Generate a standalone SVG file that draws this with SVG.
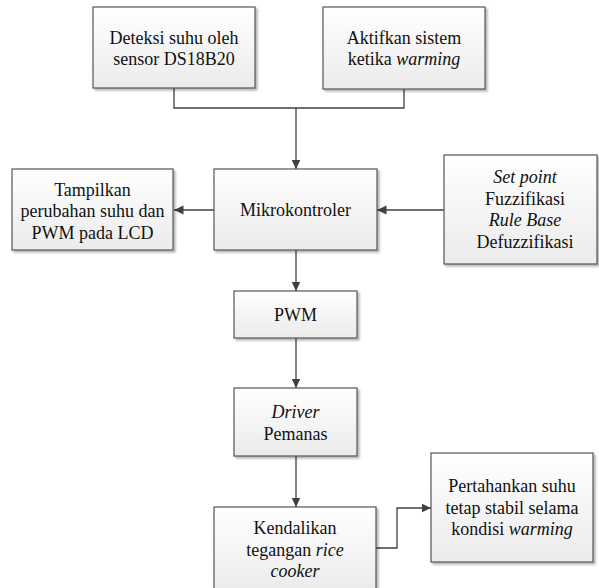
<svg xmlns="http://www.w3.org/2000/svg" width="599" height="588" viewBox="0 0 599 588">
<defs>
<linearGradient id="g" x1="0" y1="0" x2="0" y2="1">
<stop offset="0" stop-color="#ffffff"/>
<stop offset="1" stop-color="#ebebeb"/>
</linearGradient>
<filter id="sh" x="-10%" y="-10%" width="130%" height="130%">
<feDropShadow dx="2" dy="2" stdDeviation="1" flood-color="#000" flood-opacity="0.3"/>
</filter>
<marker id="ah" markerWidth="10" markerHeight="10" refX="9.5" refY="4.5" orient="auto" markerUnits="userSpaceOnUse">
<path d="M0,0 L9.5,4.5 L0,9 Z" fill="#404040"/>
</marker>
<style>
.box{fill:url(#g);stroke:#555555;stroke-width:1.2;filter:url(#sh)}
text{font-family:'Liberation Serif','DejaVu Serif',serif;font-size:18px;fill:#111111;text-anchor:middle}
.i{font-style:italic}
.c{fill:none;stroke:#404040;stroke-width:1.3}
.a{marker-end:url(#ah)}
</style>
</defs>
<rect width="599" height="588" fill="#ffffff"/>
<g id="connectors">
<polyline class="c" points="174,88 174,108 404,108 404,89"/>
<line class="c a" x1="296" y1="108" x2="296" y2="169"/>
<line class="c a" x1="214" y1="210" x2="174" y2="210"/>
<line class="c a" x1="444" y1="210" x2="377" y2="210"/>
<line class="c a" x1="296" y1="250" x2="296" y2="291"/>
<line class="c a" x1="296" y1="338" x2="296" y2="388"/>
<line class="c a" x1="296" y1="456" x2="296" y2="507"/>
<polyline class="c a" points="376,548 397,548 397,508 431,508"/>
</g>
<g id="deteksi">
<rect class="box" x="93" y="7" width="162" height="81"/>
<text x="174" y="43.5">Deteksi suhu oleh</text>
<text x="174" y="65">sensor DS18B20</text>
</g>
<g id="aktifkan">
<rect class="box" x="323" y="7" width="162" height="82"/>
<text x="404" y="43.5">Aktifkan sistem</text>
<text x="404" y="65">ketika <tspan class="i">warming</tspan></text>
</g>
<g id="tampilkan">
<rect class="box" x="12" y="169" width="161" height="81"/>
<text x="92.5" y="195.5">Tampilkan</text>
<text x="92.5" y="217">perubahan suhu dan</text>
<text x="92.5" y="238.5">PWM pada LCD</text>
</g>
<g id="mikrokontroler">
<rect class="box" x="214" y="169" width="163" height="81"/>
<text x="295.5" y="216">Mikrokontroler</text>
</g>
<g id="fuzzy">
<rect class="box" x="444" y="155" width="153" height="109"/>
<text x="525" y="183"><tspan class="i">Set point</tspan></text>
<text x="525" y="204.5">Fuzzifikasi</text>
<text x="525" y="226"><tspan class="i">Rule Base</tspan></text>
<text x="525" y="247.5">Defuzzifikasi</text>
</g>
<g id="pwm">
<rect class="box" x="234" y="291" width="123" height="47"/>
<text x="295.5" y="321">PWM</text>
</g>
<g id="driver">
<rect class="box" x="234" y="388" width="123" height="68"/>
<text x="295.5" y="418"><tspan class="i">Driver</tspan></text>
<text x="295.5" y="439.5">Pemanas</text>
</g>
<g id="kendalikan">
<rect class="box" x="214" y="507" width="162" height="84"/>
<text x="295" y="534">Kendalikan</text>
<text x="295" y="555.5">tegangan <tspan class="i">rice</tspan></text>
<text x="295" y="577"><tspan class="i">cooker</tspan></text>
</g>
<g id="pertahankan">
<rect class="box" x="431" y="453" width="162" height="109"/>
<text x="512" y="492">Pertahankan suhu</text>
<text x="512" y="513.5">tetap stabil selama</text>
<text x="512" y="535">kondisi <tspan class="i">warming</tspan></text>
</g>
</svg>
